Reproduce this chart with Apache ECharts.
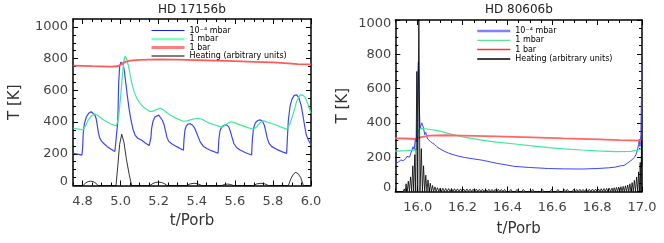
<!DOCTYPE html>
<html><head><meta charset="utf-8">
<script src="https://cdn.jsdelivr.net/npm/echarts@6/dist/echarts.min.js"></script>
<style>html,body{margin:0;padding:0;background:#fff}#c{width:664px;height:243px}</style>
</head><body><div id="c"></div>
<script>
// ---------- texts and ticks ----------
const panelTitles = ['HD 17156b', 'HD 80606b'];
const seriesNames = ['10⁻⁴ mbar', '1 mbar', '1 bar', 'Heating (arbitrary units)'];
const xName = 't/Porb';
const yName = 'T [K]';
const leftXTicks = [4.8, 5.0, 5.2, 5.4, 5.6, 5.8, 6.0];
const leftXMinor = [4.75, 4.85, 4.9, 4.95, 5.05, 5.1, 5.15, 5.25, 5.3, 5.35, 5.45, 5.5, 5.55, 5.65, 5.7, 5.75, 5.85, 5.9, 5.95];
const rightXTicks = [16.0, 16.2, 16.4, 16.6, 16.8, 17.0];
const rightXMinor = [15.9, 15.95, 16.05, 16.1, 16.15, 16.25, 16.3, 16.35, 16.45, 16.5, 16.55, 16.65, 16.7, 16.75, 16.85, 16.9, 16.95];
const yTicks = [0, 200, 400, 600, 800, 1000];
const yMinor = [50, 100, 150, 250, 300, 350, 450, 500, 550, 650, 700, 750, 850, 900, 950];

// ---------- HD 17156b ----------
const blueLeft = [[4.751,203],[4.775,198],[4.797,192],[4.800,230],[4.804,330],[4.810,390],[4.820,432],[4.832,455],[4.845,465],[4.855,462],[4.865,445],[4.872,420],[4.878,375],[4.884,330],[4.890,300],[4.900,280],[4.912,265],[4.930,245],[4.950,228],[4.970,214],[4.980,222],
 [4.985,400],[4.990,650],[4.995,750],[5.001,778],[5.007,785],[5.013,765],[5.020,720],[5.028,640],[5.036,560],[5.045,480],[5.055,410],[5.065,355],[5.076,318],[5.090,298],[5.111,285],[5.130,268],[5.150,252],[5.155,250],
 [5.159,300],[5.163,360],[5.170,405],[5.180,432],[5.190,444],[5.200,444],[5.210,432],[5.220,410],[5.228,385],[5.236,345],[5.243,305],[5.252,280],[5.270,262],[5.295,245],[5.315,232],[5.330,222],
 [5.333,290],[5.338,350],[5.345,375],[5.355,388],[5.366,390],[5.378,380],[5.390,360],[5.400,330],[5.408,305],[5.418,275],[5.434,248],[5.455,232],[5.480,218],[5.512,203],
 [5.516,290],[5.522,345],[5.532,370],[5.545,381],[5.557,382],[5.568,370],[5.577,340],[5.585,305],[5.595,265],[5.610,238],[5.630,222],[5.660,205],[5.688,192],
 [5.692,290],[5.698,360],[5.708,395],[5.720,410],[5.732,414],[5.745,405],[5.755,380],[5.763,340],[5.770,300],[5.780,265],[5.794,245],[5.820,228],[5.850,212],[5.872,203],
 [5.876,300],[5.881,410],[5.890,500],[5.900,545],[5.912,568],[5.925,572],[5.937,550],[5.948,505],[5.958,440],[5.966,380],[5.975,320],[5.986,287],[6.0,257]];
const greenLeft = [[4.751,361],[4.780,356],[4.804,350],[4.815,375],[4.830,413],[4.848,440],[4.866,451],[4.885,438],[4.905,418],[4.927,402],[4.950,388],[4.978,376],[4.990,430],[5.000,560],[5.010,700],[5.018,790],[5.024,817],[5.031,800],[5.040,760],[5.050,700],[5.060,640],[5.070,595],[5.085,550],[5.102,518],[5.125,490],[5.154,467],[5.170,468],[5.190,480],[5.207,487],[5.222,480],[5.240,462],[5.259,446],[5.290,425],[5.329,405],[5.350,408],[5.370,415],[5.390,421],[5.410,424],[5.430,416],[5.450,402],[5.470,392],[5.500,380],[5.531,368],[5.550,380],[5.565,395],[5.583,402],[5.600,395],[5.627,382],[5.660,368],[5.697,355],[5.715,370],[5.732,395],[5.749,409],[5.770,400],[5.800,388],[5.820,380],[5.850,365],[5.872,355],[5.890,390],[5.907,455],[5.925,530],[5.942,571],[5.955,570],[5.968,560],[5.985,510],[6.0,455]];
const redLeft = [[4.751,756],[4.85,753],[4.95,750],[4.985,752],[5.0,762],[5.02,778],[5.05,787],[5.1,792],[5.2,796],[5.3,794],[5.4,791],[5.5,788],[5.6,784],[5.7,780],[5.8,776],[5.88,770],[5.93,766],[6.0,764]];
const heatLeft = [[4.751,0],[4.803,0],[4.815,15],[4.83,25],[4.842,27],[4.855,25],[4.87,15],[4.881,0],[4.976,0],[4.985,120],[4.995,260],[5.006,323],[5.018,270],[5.03,170],[5.045,70],[5.058,0],[5.154,0],[5.17,13],[5.185,20],[5.199,21],[5.215,19],[5.23,12],[5.244,0],[5.347,0],[5.365,10],[5.386,14],[5.405,11],[5.426,0],[5.531,0],[5.545,6],[5.562,9],[5.578,6],[5.592,0],[5.697,0],[5.715,10],[5.737,14],[5.758,10],[5.776,0],[5.881,0],[5.895,45],[5.908,72],[5.92,83],[5.932,75],[5.946,50],[5.96,0],[6.0,0]];

// ---------- HD 80606b ----------
const blueRight = [[15.902,164],[15.915,172],[15.924,184],[15.935,180],[15.946,190],[15.952,205],[15.958,213],[15.963,200],[15.967,205],[15.974,240],[15.979,261],[15.984,245],[15.988,290],[15.991,312],[15.994,290],[15.998,420],[16.001,700],[16.003,757],[16.006,560],[16.010,370],[16.014,375],[16.018,400],[16.021,410],[16.026,370],[16.031,332],[16.036,345],[16.040,320],[16.045,305],[16.050,310],[16.056,292],[16.066,282],[16.075,275],[16.085,262],[16.095,252],[16.118,235],[16.137,224],[16.170,210],[16.210,198],[16.250,190],[16.290,182],[16.350,165],[16.434,146],[16.500,140],[16.583,134],[16.650,132],[16.732,131],[16.800,134],[16.850,138],[16.880,142],[16.905,150],[16.920,152],[16.935,165],[16.946,176],[16.955,185],[16.961,196],[16.967,200],[16.973,215],[16.977,230],[16.981,252],[16.985,275],[16.988,305],[16.991,262],[16.995,330],[16.998,600],[17.0,740]];
const greenRight = [[15.899,236],[15.95,238],[15.985,241],[15.995,246],[16.0,300],[16.004,360],[16.013,368],[16.03,366],[16.05,363],[16.09,355],[16.137,339],[16.2,318],[16.286,300],[16.35,288],[16.434,277],[16.5,267],[16.583,256],[16.65,249],[16.732,242],[16.8,237],[16.881,233],[16.95,234],[16.985,242],[16.995,250],[17.0,255]];
const redRight = [[15.899,310],[15.95,309],[15.99,306],[16.0,312],[16.008,322],[16.05,326],[16.12,328],[16.2,326],[16.35,322],[16.51,316],[16.65,310],[16.81,304],[16.9,300],[17.0,297]];
const heatRight = [[15.899,0],[15.935,0],[15.940,15],[15.944,0],[15.948,45],[15.953,0],[15.958,60],[15.963,0],[15.968,85],[15.973,0],[15.978,150],[15.982,0],[15.987,215],[15.991,0],[15.996,700],[16.000,0],[16.005,1100],[16.010,0],[16.016,250],[16.021,0],[16.026,150],[16.031,0],[16.036,95],[16.041,0],[16.046,68],[16.051,0],[16.056,48],[16.061,0],[16.066,35],[16.071,0],[16.077,27],[16.082,0],[16.088,22],[16.094,0],[16.100,20],[16.106,0],[16.112,19],[16.118,0],[16.125,18],[16.131,0],[16.138,17],[16.144,0],[16.151,16],[16.157,0],[16.164,16],[16.170,0],[16.177,15],[16.184,0],
 [16.191,15],[16.198,0],[16.205,14],[16.212,0],[16.219,15],[16.226,0],[16.233,14],[16.240,0],[16.247,13],[16.254,0],[16.261,14],[16.268,0],[16.275,13],[16.282,0],[16.289,13],[16.296,0],[16.303,12],[16.310,0],[16.317,13],[16.324,0],[16.331,12],[16.338,0],[16.345,12],[16.352,0],[16.359,13],[16.366,0],[16.373,12],[16.380,0],[16.387,12],[16.394,0],[16.401,11],[16.408,0],[16.415,12],[16.422,0],[16.429,11],[16.436,0],[16.443,12],[16.450,0],[16.457,11],[16.464,0],[16.471,12],[16.478,0],[16.485,11],[16.492,0],[16.499,11],[16.506,0],[16.513,12],[16.520,0],[16.527,11],[16.534,0],[16.541,11],[16.548,0],[16.555,12],[16.562,0],[16.569,11],[16.576,0],[16.583,11],[16.590,0],[16.597,12],[16.604,0],[16.611,11],[16.618,0],[16.625,12],[16.632,0],[16.639,11],[16.646,0],[16.653,12],[16.660,0],[16.667,12],[16.674,0],[16.681,11],[16.688,0],[16.695,12],[16.702,0],[16.709,12],[16.716,0],[16.723,13],[16.730,0],[16.737,12],[16.744,0],[16.751,13],[16.758,0],[16.765,13],[16.772,0],[16.779,14],[16.786,0],[16.793,14],[16.800,0],[16.806,15],[16.812,0],[16.818,16],[16.824,0],[16.830,17],[16.836,0],[16.842,18],[16.848,0],[16.854,19],[16.860,0],[16.866,20],[16.871,0],[16.876,22],[16.881,0],[16.886,24],[16.891,0],[16.896,26],[16.901,0],[16.906,28],[16.911,0],[16.916,30],[16.921,0],[16.926,33],[16.931,0],[16.936,38],[16.941,0],[16.946,45],[16.951,0],[16.956,52],[16.961,0],[16.966,65],[16.971,0],[16.976,85],[16.981,0],[16.985,115],[16.989,0],[16.992,170],[16.995,0],[16.998,300],[17.0,150]];

// ---------- build ----------
const FONT = 'DejaVu Sans';
const lblStyle = {fontFamily: FONT, fontSize: 13, color: '#444'};
const nameStyle = {fontFamily: FONT, fontSize: 15, color: '#333'};
const axLine = {show: true, onZero: false, lineStyle: {color: '#000', width: 1.5}};
const tickLs = {color: '#000', width: 1};
const richNudge = {
  lo: {fontFamily: FONT, fontSize: 13, color: '#444', padding: [0, 0, 8, 0]},
  hi: {fontFamily: FONT, fontSize: 13, color: '#444', padding: [8, 0, 0, 0]}
};

function xAxes(grid, min, max, major, minor, nameGap) {
  const base = {type: 'value', gridIndex: grid, min: min, max: max, splitLine: {show: false},
    axisLine: {show: false, onZero: false}, axisLabel: {show: false}, axisTick: {show: false}};
  return [
    Object.assign({}, base, {position: 'bottom', name: xName, nameLocation: 'middle', nameGap: nameGap, nameTextStyle: nameStyle,
      axisLine: axLine, axisTick: {show: true, inside: true, length: 5, customValues: major, lineStyle: tickLs},
      axisLabel: Object.assign({show: true, customValues: major, margin: 10, formatter: v => Number(v).toFixed(1)}, lblStyle)}),
    Object.assign({}, base, {position: 'bottom', axisTick: {show: true, inside: true, length: 3, customValues: minor, lineStyle: tickLs}}),
    Object.assign({}, base, {position: 'top', axisLine: axLine, axisTick: {show: true, inside: true, length: 5, customValues: major, lineStyle: tickLs}}),
    Object.assign({}, base, {position: 'top', axisTick: {show: true, inside: true, length: 3, customValues: minor, lineStyle: tickLs}})
  ];
}
function yAxes(grid, min, max, major, minor, nameGap, margin) {
  const base = {type: 'value', gridIndex: grid, min: min, max: max, splitLine: {show: false},
    axisLine: {show: false, onZero: false}, axisLabel: {show: false}, axisTick: {show: false}};
  const fmt = v => {
    const s = String(Math.round(v));
    if (v === min) return '{lo|' + s + '}';
    if (v === max) return '{hi|' + s + '}';
    return s;
  };
  return [
    Object.assign({}, base, {position: 'left', name: yName, nameLocation: 'middle', nameGap: nameGap, nameRotate: 90, nameTextStyle: nameStyle,
      axisLine: axLine, axisTick: {show: true, inside: true, length: 5, customValues: major, lineStyle: tickLs},
      axisLabel: Object.assign({show: true, customValues: major, margin: margin, formatter: fmt, rich: richNudge}, lblStyle)}),
    Object.assign({}, base, {position: 'left', axisTick: {show: true, inside: true, length: 3, customValues: minor, lineStyle: tickLs}}),
    Object.assign({}, base, {position: 'right', axisLine: axLine, axisTick: {show: true, inside: true, length: 5, customValues: major, lineStyle: tickLs}}),
    Object.assign({}, base, {position: 'right', axisTick: {show: true, inside: true, length: 3, customValues: minor, lineStyle: tickLs}})
  ];
}
function line(name, data, xi, yi, color, width) {
  return {type: 'line', name: name, data: data, xAxisIndex: xi, yAxisIndex: yi, symbol: 'none', showSymbol: false,
    lineStyle: {color: color, width: width}, itemStyle: {color: color}, clip: true, silent: true, animation: false};
}
function legend(left, top, gap, styles) {
  return {left: left, top: top, orient: 'vertical', padding: 0, itemWidth: 33, itemHeight: 7, itemGap: gap,
    selectedMode: false, textStyle: {fontFamily: FONT, fontSize: 8, color: '#000', lineHeight: 7},
    data: seriesNames.map((n, i) => ({name: n,
      lineStyle: {color: styles[i][0], width: styles[i][1]},
      itemStyle: {color: 'rgba(0,0,0,0)', borderColor: 'rgba(0,0,0,0)', borderWidth: 0, opacity: 0}}))};
}

const colBlue = '#3b45ff', colGreen = '#3fe89a', colRed = '#ff5a5a', colBlack = '#000';

const option = {
  animation: false,
  backgroundColor: '#fff',
  title: [
    {text: panelTitles[0], left: 158, top: 4, padding: 0, textStyle: {fontFamily: FONT, fontSize: 12, fontWeight: 'normal', color: '#222'}},
    {text: panelTitles[1], left: 485, top: 4, padding: 0, textStyle: {fontFamily: FONT, fontSize: 12, fontWeight: 'normal', color: '#222'}}
  ],
  legend: [
    legend(150, 26.5, 0.5, [['#1020ff', 1], ['#7fffbf', 2.5], ['#ff8080', 3], ['#000', 1]]),
    legend(476, 27, 1.3, [['#7f7fff', 2.5], ['#30e080', 1], ['#ff3030', 1.5], ['#000', 1.5]])
  ],
  grid: [
    {left: 73, top: 19, width: 238, height: 166.5},
    {left: 395.3, top: 20, width: 246.7, height: 171.5}
  ],
  xAxis: [].concat(xAxes(0, 4.75, 6.0, leftXTicks, leftXMinor, 27), xAxes(1, 15.9, 17.0, rightXTicks, rightXMinor, 30)),
  yAxis: [].concat(yAxes(0, 0, 1050, yTicks, yMinor, 50, 5), yAxes(1, 0, 1000, yTicks, yMinor, 45, 4)),
  series: [
    line(seriesNames[0], blueLeft, 0, 0, colBlue, 1.2),
    line(seriesNames[1], greenLeft, 0, 0, colGreen, 1.2),
    line(seriesNames[2], redLeft, 0, 0, colRed, 1.8),
    line(seriesNames[3], heatLeft, 0, 0, colBlack, 0.8),
    line(seriesNames[0], blueRight, 4, 4, colBlue, 1),
    line(seriesNames[1], greenRight, 4, 4, colGreen, 1.2),
    line(seriesNames[2], redRight, 4, 4, '#ff6666', 1.8),
    line(seriesNames[3], heatRight, 4, 4, colBlack, 0.8)
  ]
};
const chart = echarts.init(document.getElementById('c'), null, {renderer: 'canvas'});
chart.setOption(option);
</script></body></html>
